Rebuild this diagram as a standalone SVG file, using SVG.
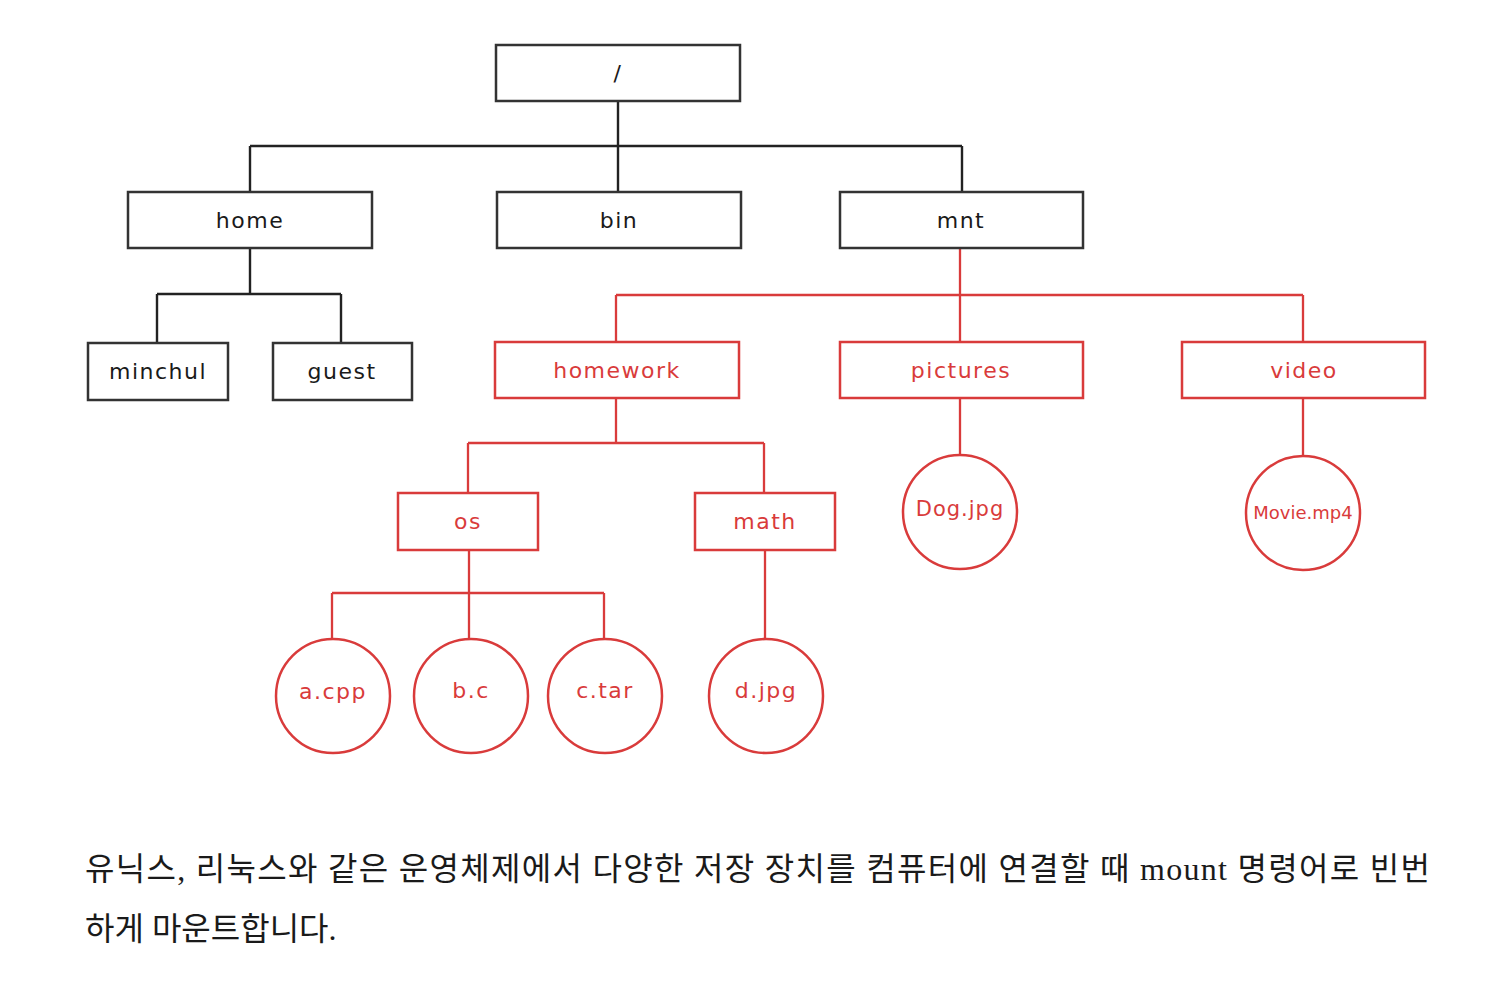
<svg xmlns="http://www.w3.org/2000/svg" width="1494" height="1008" viewBox="0 0 1494 1008">
<style>
.bk{fill:#fff;stroke:#333;stroke-width:2.5}
.rd{fill:#fff;stroke:#d93b3b;stroke-width:2.5}
.lk{fill:none;stroke:#222;stroke-width:2.4}
.lr{fill:none;stroke:#d93b3b;stroke-width:2.3}
.t{font-family:"DejaVu Sans","Noto Sans",sans-serif;font-size:22px;letter-spacing:1.5px;text-anchor:middle;dominant-baseline:central;fill:#1a1a1a}
.tr{fill:#d93b3b}
.cap{font-family:"Liberation Serif","Noto Sans CJK KR",serif;font-size:32px;fill:#1a1a1a}
</style>
<rect width="1494" height="1008" fill="#fff"/>
<g id="connectors">
<path class="lk" d="M618 101V192M250 146H962M250 146V192M962 146V192"/>
<path class="lk" d="M250 248V294M157 294H341M157 294V343M341 294V343"/>
<path class="lr" d="M960 248V342M616 295H1303M616 295V342M1303 295V342"/>
<path class="lr" d="M616 398V443M468 443H764M468 443V493M764 443V493"/>
<path class="lr" d="M960 398V455M1303 398V455"/>
<path class="lr" d="M469 550V640M332 593H604M332 593V640M604 593V640"/>
<path class="lr" d="M765 550V640"/>
</g>
<g id="root"><rect class="bk" x="496" y="45" width="244" height="56"/><text class="t" x="618" y="73">/</text></g>
<g id="home"><rect class="bk" x="128" y="192" width="244" height="56"/><text class="t" x="250" y="220">home</text></g>
<g id="bin"><rect class="bk" x="497" y="192" width="244" height="56"/><text class="t" x="619" y="220">bin</text></g>
<g id="mnt"><rect class="bk" x="840" y="192" width="243" height="56"/><text class="t" x="961" y="220">mnt</text></g>
<g id="minchul"><rect class="bk" x="88" y="343" width="140" height="57"/><text class="t" x="158" y="371">minchul</text></g>
<g id="guest"><rect class="bk" x="273" y="343" width="139" height="57"/><text class="t" x="342" y="371">guest</text></g>
<g id="homework"><rect class="rd" x="495" y="342" width="244" height="56"/><text class="t tr" x="617" y="370">homework</text></g>
<g id="pictures"><rect class="rd" x="840" y="342" width="243" height="56"/><text class="t tr" x="961" y="370">pictures</text></g>
<g id="video"><rect class="rd" x="1182" y="342" width="243" height="56"/><text class="t tr" x="1304" y="370">video</text></g>
<g id="os"><rect class="rd" x="398" y="493" width="140" height="57"/><text class="t tr" x="468" y="521">os</text></g>
<g id="math"><rect class="rd" x="695" y="493" width="140" height="57"/><text class="t tr" x="765" y="521">math</text></g>
<g id="dog"><circle class="rd" cx="960" cy="512" r="57"/><text class="t tr" x="960" y="509" style="font-size:21px;letter-spacing:1px">Dog.jpg</text></g>
<g id="movie"><circle class="rd" cx="1303" cy="513" r="57"/><text class="t tr" x="1303" y="512" style="font-size:18px;letter-spacing:0px">Movie.mp4</text></g>
<g id="acpp"><circle class="rd" cx="333" cy="696" r="57"/><text class="t tr" x="333" y="691">a.cpp</text></g>
<g id="bc"><circle class="rd" cx="471" cy="696" r="57"/><text class="t tr" x="471" y="690">b.c</text></g>
<g id="ctar"><circle class="rd" cx="605" cy="696" r="57"/><text class="t tr" x="605" y="690">c.tar</text></g>
<g id="djpg"><circle class="rd" cx="766" cy="696" r="57"/><text class="t tr" x="766" y="690">d.jpg</text></g>
<g id="caption">
<text class="cap" x="85" y="880" textLength="1345" lengthAdjust="spacing">유닉스, 리눅스와 같은 운영체제에서 다양한 저장 장치를 컴퓨터에 연결할 때 mount 명령어로 빈번</text>
<text class="cap" x="85" y="940">하게 마운트합니다.</text>
</g>
</svg>
